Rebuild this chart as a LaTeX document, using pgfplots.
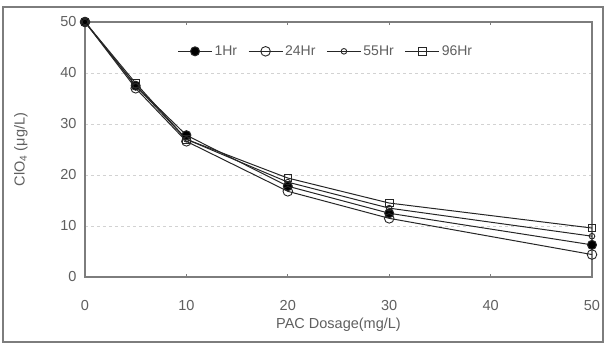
\documentclass[border=0pt]{standalone}
\usepackage{pgfplots}
\pgfplotsset{compat=1.18}
\usepackage{fontspec}
\setmainfont{Liberation Sans}
\definecolor{txt}{RGB}{95,95,95}
\definecolor{axc}{RGB}{125,125,125}
\begin{document}
\begin{tikzpicture}[x=1pt,y=1pt]
\path[use as bounding box] (0,0) rectangle (605,344);
\draw[axc, line width=1.5pt] (3,2) rectangle (603,337);
\begin{axis}[
  at={(85pt,67pt)}, anchor=south west,
  scale only axis, width=507pt, height=255pt,
  xmin=0, xmax=50, ymin=0, ymax=50,
  xtick={0,10,...,50}, ytick={0,10,...,50},
  ymajorgrids, grid style={dashed, gray!35, line width=0.8pt},
  axis line style={axc, line width=1.5pt},
  tick align=inside, major tick length=3pt,
  xtick style={axc, line width=0.8pt}, ytick style={draw=none},
  /pgf/number format/assume math mode=true,
  tick label style={font=\fontsize{14.5}{16}\selectfont, text=txt},
  xticklabel style={yshift=-20pt},
  yticklabel style={xshift=-5pt},
  xlabel={PAC Dosage(mg/L)},
  ylabel={ClO\textsubscript{4} (μg/L)},
  label style={font=\fontsize{14.5}{16}\selectfont, text=txt},
  xlabel style={at={(axis description cs:0.5,0)}, anchor=center, yshift=-48pt},
  ylabel style={at={(axis description cs:0,0.5)}, anchor=center, rotate=0, yshift=64pt},
  legend columns=4,
  legend style={draw=none, fill=none, at={(axis description cs:0.475,0.885)}, anchor=center,
    font=\fontsize{14}{16}\selectfont, text=txt,
    /tikz/every even column/.append style={column sep=9pt}},
  legend image code/.code={\draw[mark repeat=2,mark phase=2,#1] plot coordinates {(0pt,0pt)(17pt,0pt)(34pt,0pt)};},
  every axis plot/.append style={black!85, line width=1pt},
]
\addplot[mark=*, mark size=4.5pt, mark options={fill=black}] coordinates {(0,50)(5,37.5)(10,27.8)(20,17.8)(30,12.5)(50,6.3)};
\addplot[mark=o, mark size=4.8pt, mark options={fill=white, line width=0.9pt}] coordinates {(0,50)(5,37)(10,26.6)(20,16.8)(30,11.5)(50,4.4)};
\addplot[mark=o, mark size=2.8pt, mark options={fill=white, line width=0.9pt}] coordinates {(0,50)(5,37.5)(10,27)(20,18.6)(30,13.5)(50,8.0)};
\addplot[mark=square, mark size=3.8pt, mark options={fill=white, line width=0.9pt}] coordinates {(0,50)(5,38)(10,27)(20,19.4)(30,14.5)(50,9.6)};
\legend{1Hr,24Hr,55Hr,96Hr}
\end{axis}
\end{tikzpicture}
\end{document}
